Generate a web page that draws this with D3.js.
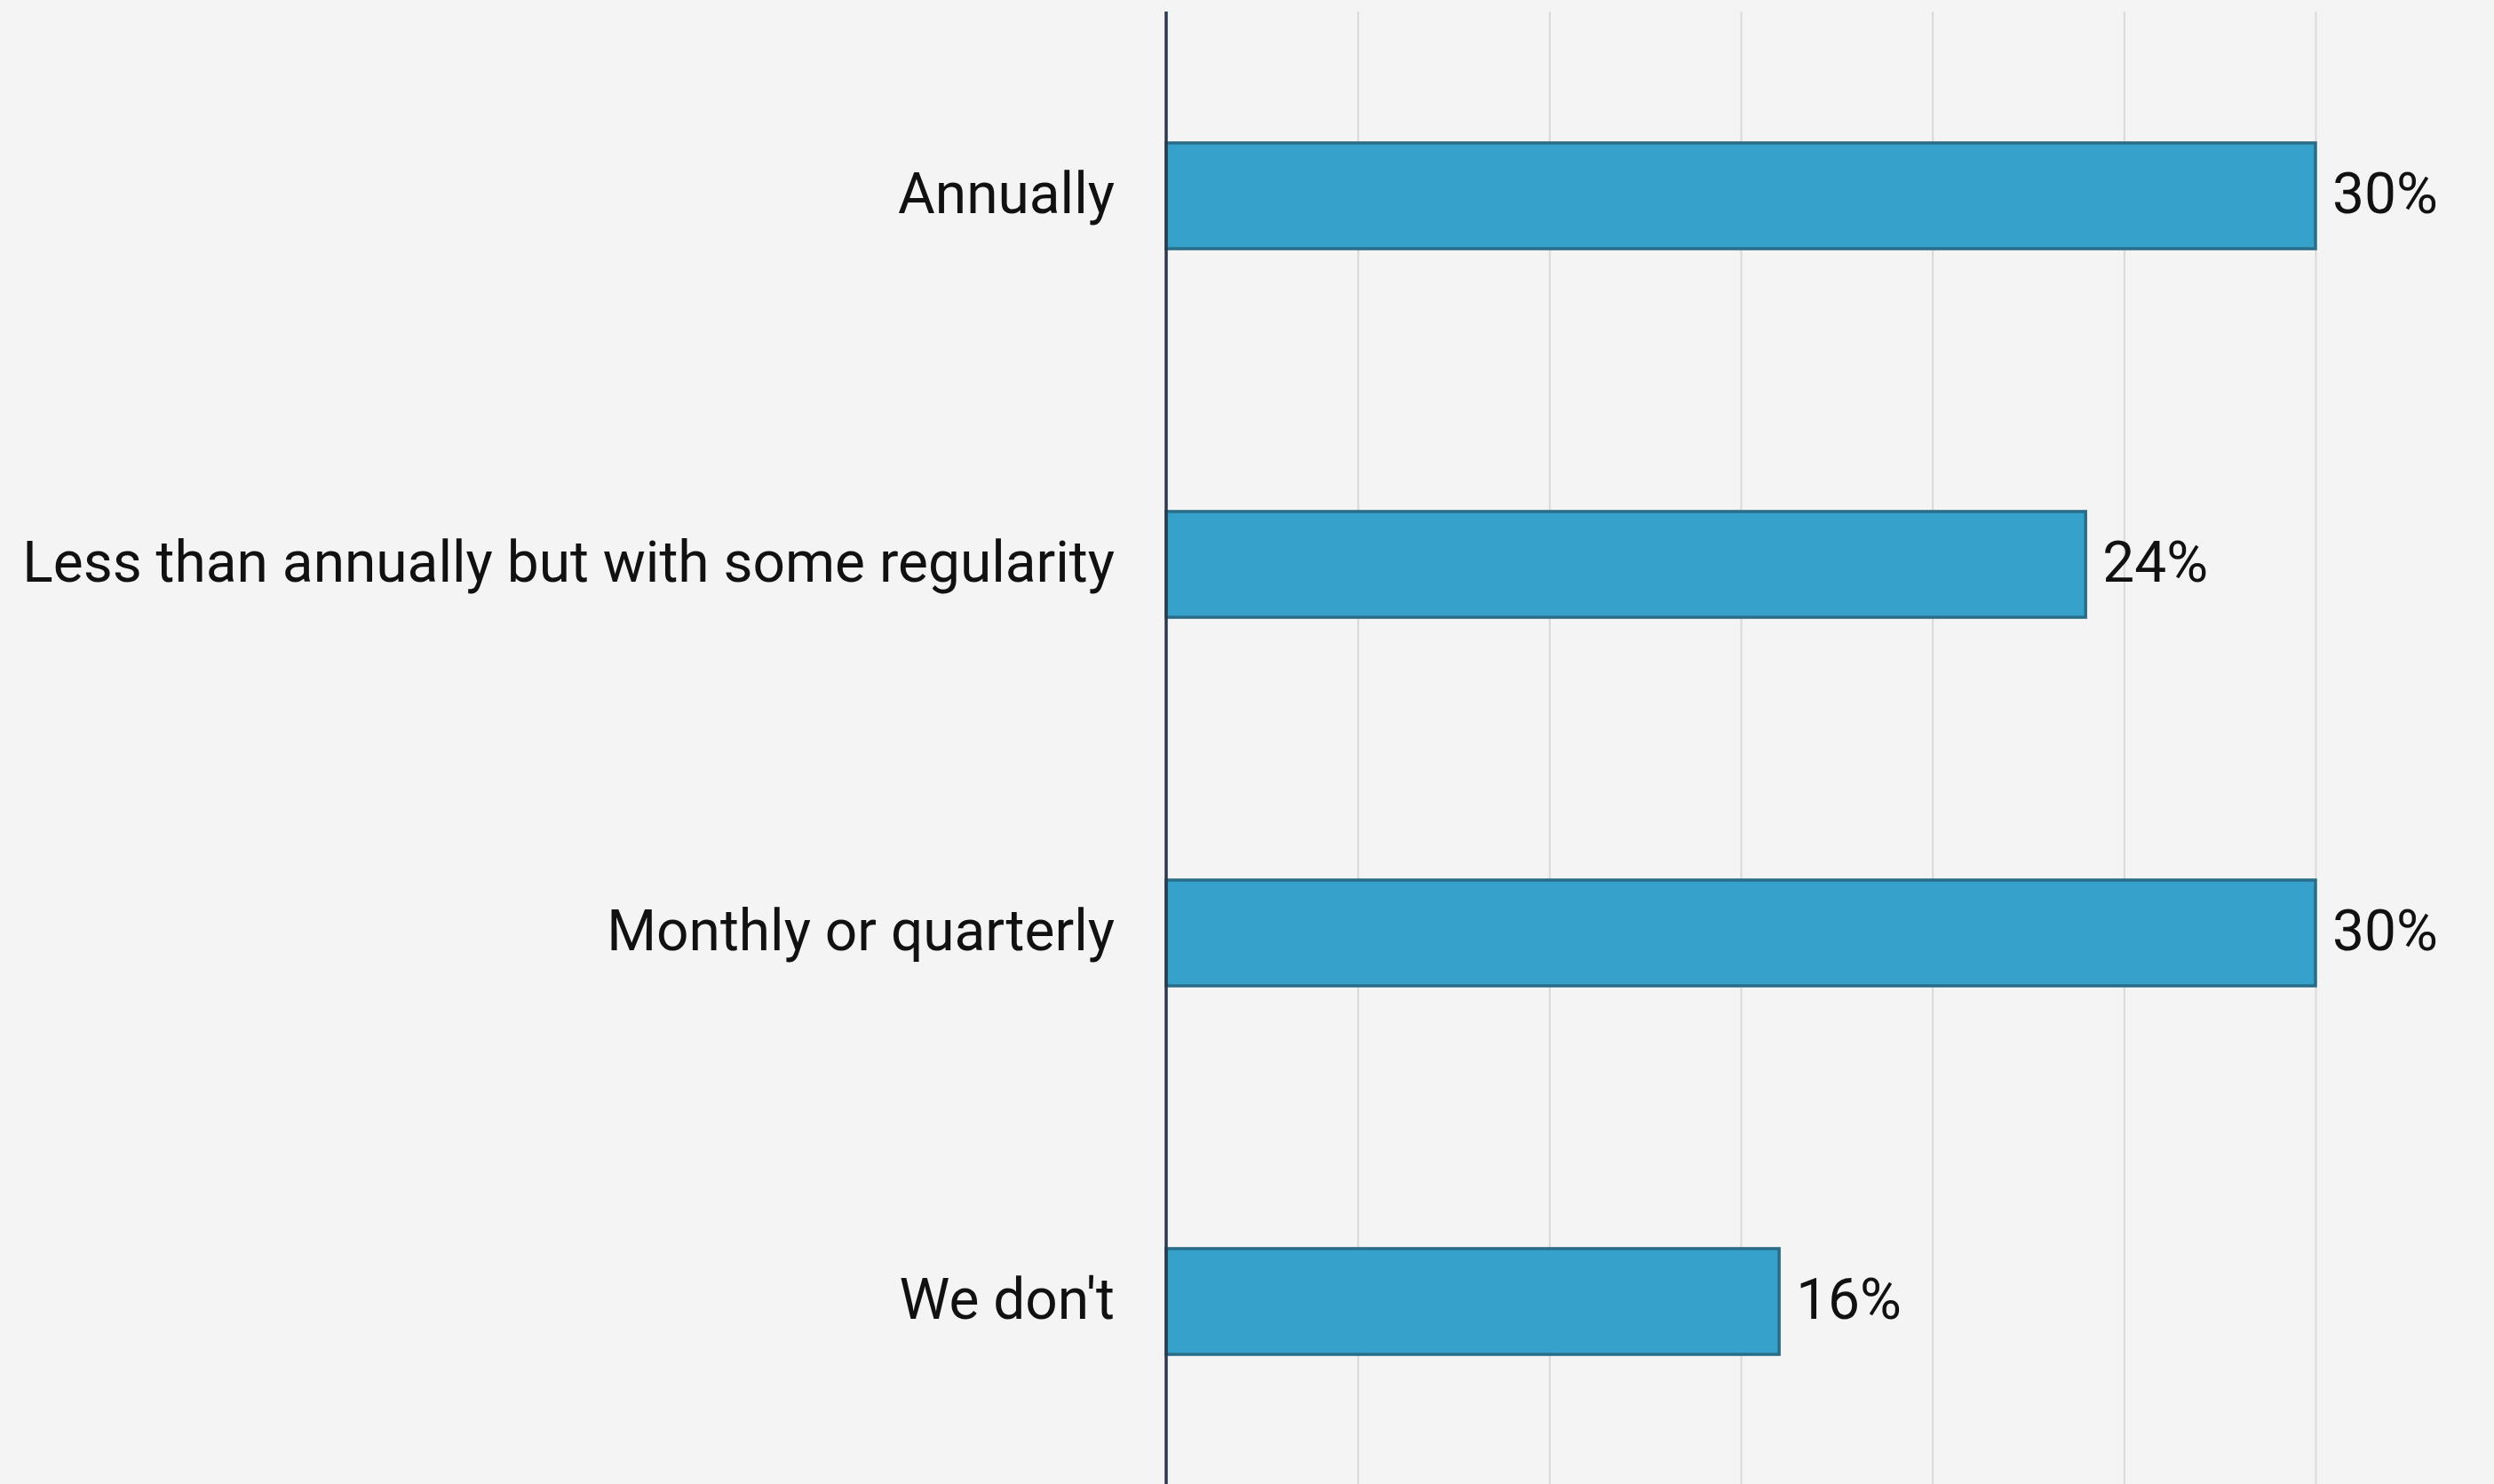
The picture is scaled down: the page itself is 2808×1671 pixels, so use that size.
<!DOCTYPE html>
<html>
<head>
<meta charset="utf-8">
<script src="https://cdn.jsdelivr.net/npm/d3@7"></script>
<style>
  html, body { margin: 0; padding: 0; background: #f4f4f4; }
  svg { display: block; }
</style>
</head>
<body>
<svg id="chart" width="2808" height="1671"></svg>
<script>
// Survey answers and their shares (percent)
const categories = [
  "Annually",
  "Less than annually but with some regularity",
  "Monthly or quarterly",
  "We don't"
];
const values = [30, 24, 30, 16];
const valueLabels = ["30%", "24%", "30%", "16%"];
const gridTicks = [0, 5, 10, 15, 20, 25, 30];

const W = 2808, H = 1671;
const svg = d3.select("#chart");

svg.append("rect").attr("width", W).attr("height", H).attr("fill", "#f4f4f4");

const x = d3.scaleLinear().domain([0, 30]).range([1313, 2607]);
const y = d3.scaleBand()
  .domain(categories)
  .range([13, 1673])
  .paddingInner(0.713)
  .paddingOuter(0.3565);

// vertical grid lines
const grid = svg.append("g")
  .attr("transform", `translate(0,${H})`)
  .call(d3.axisBottom(x).tickValues(gridTicks.slice(1)).tickSize(-(H - 13)).tickFormat(""));
grid.select(".domain").remove();
grid.selectAll(".tick line").attr("stroke", "#d9d9d9").attr("stroke-width", 2);

// bars
svg.append("g").selectAll("rect")
  .data(values)
  .join("rect")
  .attr("x", x(0))
  .attr("y", (d, i) => y(categories[i]))
  .attr("width", d => x(d) - x(0))
  .attr("height", y.bandwidth())
  .attr("fill", "#36a2cb")
  .attr("stroke", "#2a6d89")
  .attr("stroke-width", 3.5);

// category axis
const yAxis = svg.append("g")
  .attr("transform", `translate(${x(0)},0)`)
  .call(d3.axisLeft(y).tickSize(0).tickPadding(58));
yAxis.select(".domain")
  .attr("d", `M0,13V${H}`)
  .attr("stroke", "#2c3a4d")
  .attr("stroke-width", 3.5);
yAxis.selectAll(".tick text")
  .attr("font-family", "Roboto, sans-serif")
  .attr("font-size", 64)
  .attr("fill", "#111111")
  .attr("dy", "0.3em");

// value labels
svg.append("g").selectAll("text")
  .data(values)
  .join("text")
  .attr("x", d => x(d) + 19)
  .attr("y", (d, i) => y(categories[i]) + y.bandwidth() / 2)
  .attr("dy", "0.3em")
  .attr("font-family", "Roboto, sans-serif")
  .attr("font-size", 64)
  .attr("fill", "#111111")
  .text((d, i) => valueLabels[i]);
</script>
</body>
</html>
